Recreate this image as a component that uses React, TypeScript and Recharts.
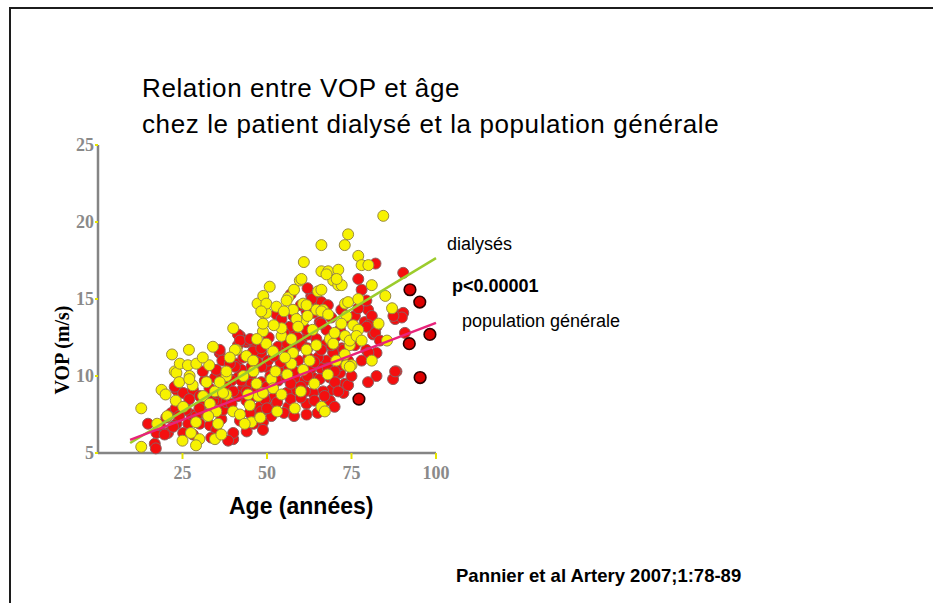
import { ScatterChart, Scatter, XAxis, YAxis } from "recharts";

// [age, VOP] pairs
const dialyses: [number, number][] = [
  [12.8, 7.9], [12.8, 5.4], [18.8, 9.1], [21.9, 11.4], [22.7, 10.3], [23.2, 10.2], [24.2, 10.8],
  [26.9, 11.7], [26.6, 10.7], [29.1, 10.8], [27.1, 10.0], [23, 8.4], [25.2, 8.0], [25, 5.8],
  [30, 5.9], [29, 5.5], [34, 11.9], [32.9, 10.7], [32.1, 9.6], [34.6, 9.0], [38, 8.8], [40, 13.1],
  [41, 11.7], [43.9, 11.3], [38, 10.0], [35, 7.7], [40, 7.7], [42, 7.5], [44.9, 8.1], [45.4, 7.0],
  [43.4, 6.9], [34.6, 5.9], [47.2, 14.7], [48.8, 14.1], [48.8, 12.9], [46.9, 9.5], [47.4, 8.7],
  [45.9, 11.0], [38, 10.3], [49.8, 14.1], [48.9, 15.2], [50.8, 15.8], [49.8, 14.7], [48.3, 14.2],
  [52.8, 14.5], [56.3, 15.1], [55.8, 14.9], [57.7, 14.3], [60.7, 14.7], [59.7, 16.2], [60.9, 17.4],
  [65.1, 15.5], [64.6, 14.3], [66.6, 14.3], [60.7, 13.6], [58.7, 13.7], [59.2, 13.2], [54.3, 12.6],
  [54.3, 13.1], [48.8, 13.4], [40.5, 11.7], [49.8, 12.1], [51.8, 11.6], [57.2, 12.4], [57.7, 11.5],
  [61.7, 11.7], [64.6, 12.0], [73.1, 14.7], [73.5, 13.9], [73.1, 12.6], [74.5, 12.0], [73.5, 10.7],
  [51.3, 9.8], [51.8, 9.2], [48.8, 8.9], [54.3, 8.8], [58.2, 7.9], [66.1, 8.0], [44.4, 8.8],
  [57.2, 10.8], [55.3, 11.2], [62.6, 11.0], [60.7, 10.4], [66.1, 18.5], [73, 18.5], [74, 19.2],
  [84.4, 20.4], [77, 17.8], [78, 17.2], [80, 17.2], [66.1, 16.8], [68.1, 16.8], [71.1, 16.9],
  [69.6, 16.2], [71.1, 15.9], [72.1, 15.9], [81, 15.9], [85, 15.2], [87, 14.4], [66.1, 15.6],
  [60.2, 16.3], [74, 14.8], [77, 15.0], [61.7, 14.6], [66.1, 14.2], [68.1, 14.0], [70.6, 16.3],
  [67.6, 16.6], [83, 13.4], [85.5, 12.3], [74.5, 12.3], [75.5, 13.3], [77, 13.0], [81, 11.0],
  [75, 10.7], [73, 11.4], [68.6, 12.4], [69.6, 12.1], [76.5, 12.6], [78, 12.3], [31.1, 8.7],
  [33.1, 8.2], [37, 8.9], [35.5, 6.9], [32.6, 7.4], [74.5, 10.6], [67.1, 7.7], [17.5, 6.9],
  [20.5, 7.4], [27.5, 6.3], [36.5, 6.2], [52.5, 10.3], [63.5, 13.0], [70.5, 11.0], [46, 10.3],
  [20, 8.8], [24, 9.6], [28, 9.4], [31, 11.2], [36, 9.6], [39, 11.2], [43, 10.0], [47, 12.4],
  [52, 13.3], [55, 14.2], [58, 15.6], [62, 13.9], [56, 10.1], [60, 9.0], [64, 9.5], [68, 10.1],
  [70, 12.8], [72, 13.4], [53, 7.7], [48, 7.3], [29, 7.0], [27, 9.8],
];

const populationGenerale: [number, number][] = [
  [14.8, 6.9], [16.8, 5.6], [17.3, 6.3], [18.3, 6.8], [20.7, 6.3], [21.7, 7.6], [23.2, 9.1],
  [23, 7.9], [25.2, 8.9], [25.7, 8.0], [26.7, 6.9], [27.6, 7.5], [29.1, 7.4], [25.2, 6.3],
  [28.1, 6.2], [30.1, 6.9], [32.1, 7.5], [33.1, 6.8], [35, 6.5], [36.5, 7.2], [37, 7.8], [36, 8.4],
  [34.6, 9.9], [36.5, 10.1], [36, 11.5], [36.8, 11.0], [39, 9.8], [38, 8.3], [40, 5.9], [40, 6.3],
  [42, 12.6], [43.9, 12.2], [41, 10.8], [41.4, 9.9], [42.9, 9.2], [45.4, 10.1], [45.9, 8.9],
  [43.9, 8.4], [46.9, 7.6], [48.8, 7.0], [47.9, 8.0], [48.8, 6.5], [46.4, 12.0], [48.3, 11.5],
  [49.8, 10.6], [49.8, 8.5], [41.4, 12.0], [23.2, 6.9], [20.2, 7.3], [31.1, 8.2], [34.1, 8.4],
  [17.1, 5.3], [19.7, 6.2], [22.7, 9.3], [22.2, 6.7],
  [52.8, 14.0], [63.1, 15.2], [65.6, 14.8], [61.7, 14.2], [57.7, 12.9], [60.2, 12.3], [62.2, 12.7],
  [67.6, 13.0], [71.6, 13.0], [69.6, 12.3], [75, 13.6], [44.4, 12.3], [41.4, 12.7], [45.9, 11.6],
  [48.3, 11.8], [50.3, 11.0], [53.3, 11.9], [55.8, 11.8], [58.2, 11.8], [60.2, 12.0], [64.6, 12.4],
  [67.1, 12.0], [69.6, 11.6], [72.1, 11.8], [71.1, 11.0], [67.6, 11.0], [65.1, 11.2], [62.2, 11.2],
  [59.2, 11.0], [56.3, 10.6], [53.3, 10.4], [48.3, 10.6], [45.4, 10.6], [42.4, 10.4], [40.5, 10.6],
  [39.5, 9.7], [42.4, 9.7], [45.4, 9.5], [48.3, 9.6], [53.3, 9.7], [55.8, 9.9], [58.2, 9.9],
  [61.2, 9.7], [63.6, 9.9], [65.6, 9.8], [68.6, 9.9], [71.6, 10.2], [69.1, 9.1], [66.6, 9.0],
  [63.6, 8.9], [61.2, 9.0], [58.2, 9.1], [55.8, 8.9], [52.3, 8.7], [49.3, 8.5], [46.4, 8.7],
  [41.4, 8.7], [39.5, 8.2], [52.3, 8.0], [56.3, 8.0], [61.7, 8.2], [61.7, 7.5], [68.6, 8.4],
  [73.1, 9.5], [72.6, 8.9], [51.3, 7.4], [48.3, 7.7], [44.9, 7.6],
  [79.9, 14.3], [76, 13.9], [78.9, 13.5], [88.3, 14.0], [90.3, 14.1], [82.4, 13.2], [90.8, 12.8],
  [88.3, 10.3], [87.3, 9.8], [82.4, 10.0], [79.9, 9.6], [70.6, 12.6], [69.6, 11.5], [72.6, 11.7],
  [71.6, 10.7], [70.1, 9.6], [71.1, 9.0], [74, 9.4], [79.4, 11.7], [82.4, 11.5], [81.4, 12.7],
  [69.1, 12.0], [82.1, 17.3], [77, 16.3], [78, 15.6], [90.3, 16.7], [64.2, 14.9], [66.1, 14.8],
  [77, 14.4], [81, 13.9], [87.9, 13.7], [89.9, 13.8], [79.4, 14.9], [80, 13.3], [87.4, 13.9],
  [79.5, 13.2], [82, 12.8], [83.4, 12.3], [36, 11.7], [39, 10.8], [42, 12.3], [45, 12.4], [35, 10.4],
  [31.6, 9.7], [28.1, 9.1], [30.1, 8.7], [54.3, 13.7], [56.8, 13.2], [59.7, 13.5], [61.7, 13.0],
  [63.7, 14.1], [65.6, 13.5], [63.2, 15.0], [57.8, 13.9], [80, 11.5], [87.9, 10.3], [50.5, 12.5],
  [55, 12.8], [33.5, 6.0], [38.5, 5.8], [44, 6.4], [26, 7.8], [31, 10.3], [66, 10.5], [63, 10.5],
  [58, 10.3],
  [43, 11.2], [47, 10.9], [51, 10.0], [54, 10.9], [57, 9.5], [60, 9.3], [62, 10.0], [64, 10.9],
  [66, 11.7], [68, 10.5], [70, 10.3], [62, 11.8], [59, 12.5], [56, 12.1], [52, 11.3], [47, 9.2],
  [44, 9.0], [50, 9.3], [53, 8.3], [57, 8.5], [60, 8.6], [64, 8.4], [67, 8.7], [70, 8.0], [65, 7.6],
  [55, 7.6], [58, 7.4], [50, 7.9], [38, 9.3], [33, 9.2], [30, 7.9], [27, 8.5], [24, 7.4], [35, 8.9],
  [40, 9.0], [42, 7.1], [46, 6.9], [74, 11.0], [76, 12.0], [78, 11.0], [75, 10.0], [66, 13.4],
  [69, 13.8], [72, 14.3], [60, 14.6], [57, 15.3], [62, 15.7], [68, 14.6],
];

// darker, black-rimmed points on the right
const outliers: [number, number][] = [
  [92.3, 15.6], [95.2, 14.8], [98.2, 12.7], [92.1, 12.1], [95.3, 9.9], [77.2, 8.5],
];

const dialysesFit: [number, number][] = [[9.5, 5.65], [100, 17.65]];
const populationFit: [number, number][] = [[9.5, 5.85], [100, 13.45]];

const xTicks = [25, 50, 75, 100];
const yTicks = [5, 10, 15, 20, 25];

const toRows = (pts: [number, number][]) => pts.map(([age, vop]) => ({ age, vop }));

const SANS = '"Liberation Sans", Arial, Helvetica, sans-serif';
const SERIF = '"Liberation Serif", "Times New Roman", serif';

const dot = (fill: string, stroke: string, r: number, sw: number) => (p: any) =>
  <circle cx={p.cx} cy={p.cy} r={r} fill={fill} stroke={stroke} strokeWidth={sw} />;

const tickStyle = { fill: "#8a8a8a", fontFamily: SERIF, fontWeight: 700, fontSize: 18 };

export default function App() {
  return (
    <div style={{ position: "absolute", left: 0, top: 0, width: 933, height: 603, background: "#fff", overflow: "hidden" }}>
      <div style={{ position: "absolute", left: 9, top: 7, right: -5, bottom: -5, borderTop: "2.5px solid #1c1c1c", borderLeft: "2.5px solid #1c1c1c" }} />
      <div style={{ position: "absolute", left: 142, top: 70, fontFamily: SANS, fontSize: 26, letterSpacing: 0.6, lineHeight: "36px", color: "#000", whiteSpace: "nowrap" }}>
        <div>Relation entre VOP et âge</div>
        <div>chez le patient dialysé et la population générale</div>
      </div>

      <div style={{ position: "absolute", left: 0, top: 0 }}>
        <ScatterChart width={933} height={603} margin={{ top: 145, right: 497, bottom: 110, left: 38 }}>
          <XAxis
            type="number"
            dataKey="age"
            domain={[0, 100]}
            ticks={xTicks}
            height={40}
            axisLine={{ stroke: "#858585", strokeWidth: 2.5 }}
            tickLine={{ stroke: "#e4e400", strokeWidth: 2 }}
            tickSize={6}
            tickMargin={7}
            tick={tickStyle}
          />
          <YAxis
            type="number"
            dataKey="vop"
            domain={[5, 25]}
            ticks={yTicks}
            width={60}
            axisLine={{ stroke: "#858585", strokeWidth: 2.5 }}
            tickLine={{ stroke: "#e4e400", strokeWidth: 2 }}
            tickSize={3}
            tickMargin={1}
            tick={tickStyle}
          />
          <Scatter data={toRows(populationGenerale)} shape={dot("#f40f0f", "#8e6060", 5.5, 1)} isAnimationActive={false} />
          <Scatter data={toRows(dialyses)} shape={dot("#f7f200", "#9a8a40", 5.5, 1)} isAnimationActive={false} />
          <Scatter data={toRows(outliers)} shape={dot("#dc0000", "#2a0000", 5.8, 1.6)} isAnimationActive={false} />
          <Scatter
            data={toRows(dialysesFit)}
            line={{ stroke: "#9ccc2c", strokeWidth: 2.5 }}
            shape={() => <g />}
            isAnimationActive={false}
          />
          <Scatter
            data={toRows(populationFit)}
            line={{ stroke: "#e8237a", strokeWidth: 2.5 }}
            shape={() => <g />}
            isAnimationActive={false}
          />
        </ScatterChart>
      </div>

      <div style={{ position: "absolute", left: 62, top: 350, transform: "translate(-50%, -50%) rotate(-90deg)", fontFamily: SERIF, fontWeight: 700, fontSize: 20, whiteSpace: "nowrap", color: "#000" }}>
        VOP (m/s)
      </div>
      <div style={{ position: "absolute", left: 229, top: 495, fontFamily: SANS, fontWeight: 700, fontSize: 23, lineHeight: 1, whiteSpace: "nowrap" }}>
        Age (années)
      </div>

      <div style={{ position: "absolute", left: 447, top: 235, fontFamily: SANS, fontSize: 18, lineHeight: 1, whiteSpace: "nowrap" }}>
        dialysés
      </div>
      <div style={{ position: "absolute", left: 452, top: 277, fontFamily: SANS, fontWeight: 700, fontSize: 18, lineHeight: 1, whiteSpace: "nowrap" }}>
        p&lt;0.00001
      </div>
      <div style={{ position: "absolute", left: 462, top: 312, fontFamily: SANS, fontSize: 18, lineHeight: 1, whiteSpace: "nowrap" }}>
        population générale
      </div>
      <div style={{ position: "absolute", left: 456, top: 567, fontFamily: SANS, fontWeight: 700, fontSize: 18.5, lineHeight: 1, whiteSpace: "nowrap" }}>
        Pannier et al Artery 2007;1:78-89
      </div>
    </div>
  );
}
